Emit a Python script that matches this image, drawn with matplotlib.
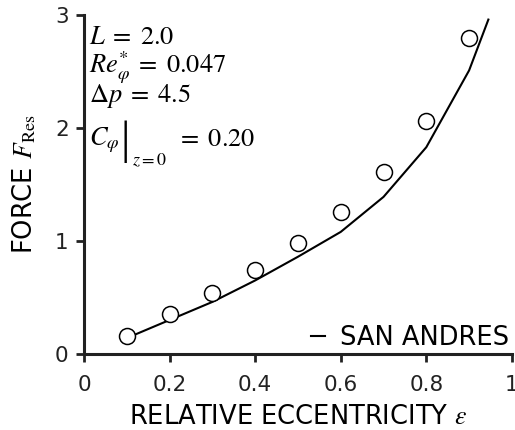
import matplotlib.pyplot as plt

# relative eccentricity and resultant force
ecc_exp = [0.1, 0.2, 0.3, 0.4, 0.5, 0.6, 0.7, 0.8, 0.9]
force_exp = [0.16, 0.35, 0.54, 0.74, 0.98, 1.26, 1.61, 2.06, 2.80]

ecc_sa = [0.1, 0.2, 0.3, 0.4, 0.5, 0.6, 0.7, 0.8, 0.9, 0.945]
force_sa = [0.14, 0.30, 0.46, 0.65, 0.86, 1.08, 1.39, 1.83, 2.51, 2.96]

x_ticks = [0, 0.2, 0.4, 0.6, 0.8, 1]
x_tick_labels = ["0", "0.2", "0.4", "0.6", "0.8", "1"]
y_ticks = [0, 1, 2, 3]

params = [r"$L\;=\;2.0$", r"$Re_{\varphi}^{*}\;=\;0.047$", r"$\Delta p\;=\;4.5$"]

plt.rcParams["font.family"] = "DejaVu Sans"
plt.rcParams["mathtext.fontset"] = "stix"

fig = plt.figure(figsize=(5.15, 4.3), dpi=100)
ax = fig.add_axes([0.163, 0.177, 0.831, 0.788])

ax.plot(ecc_sa, force_sa, color="black", lw=1.5, label="SAN ANDRES")
ax.plot(ecc_exp, force_exp, "o", ms=11.5, mfc="white", mec="black", mew=1.1)

ax.set_xlim(0, 1)
ax.set_ylim(0, 3)
ax.set_xticks(x_ticks)
ax.set_xticklabels(x_tick_labels)
ax.set_yticks(y_ticks)
ax.tick_params(labelsize=15.5, width=2, length=6, direction="out",
               colors="#222222")
ax.tick_params(axis="x", pad=9)
ax.tick_params(axis="y", pad=5)

for side in ["top", "right"]:
    ax.spines[side].set_visible(False)
for side in ["left", "bottom"]:
    ax.spines[side].set_linewidth(2.2)
    ax.spines[side].set_color("#222222")

ax.set_xlabel(r"RELATIVE ECCENTRICITY $\varepsilon$", fontsize=18.5, labelpad=6.5)
ax.set_ylabel(r"FORCE $F_{\mathrm{Res}}$", fontsize=18.5, labelpad=12)

# parameter block, top left
y_base = [0.914, 0.829, 0.743]
for txt, yy in zip(params, y_base):
    ax.text(0.012, yy, txt, transform=ax.transAxes, fontsize=19,
            va="baseline", ha="left")

ax.text(0.012, 0.614, r"$C_{\varphi}$", transform=ax.transAxes, fontsize=19,
        va="baseline", ha="left")
ax.text(0.096, 0.593, "|", transform=ax.transAxes, fontsize=34,
        family="Liberation Serif", va="baseline", ha="center")
ax.text(0.112, 0.557, r"$z=0$", transform=ax.transAxes, fontsize=13,
        va="baseline", ha="left")
ax.text(0.218, 0.614, r"$=\;0.20$", transform=ax.transAxes, fontsize=19,
        va="baseline", ha="left")

ax.legend(loc="lower right", frameon=False, fontsize=18.5, handlelength=0.55,
          handletextpad=0.6, borderaxespad=0.0, borderpad=0.1)

fig.savefig("out.png", dpi=100)
